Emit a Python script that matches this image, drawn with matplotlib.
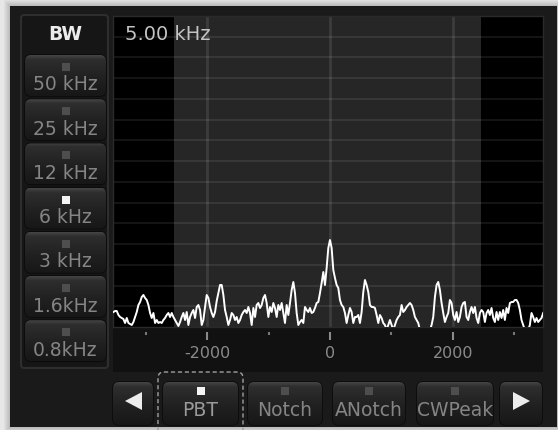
import numpy as np
import matplotlib
matplotlib.use("Agg")
import matplotlib.pyplot as plt
from matplotlib.patches import FancyBboxPatch, Rectangle, Polygon
from matplotlib.colors import LinearSegmentedColormap

# === Data ===
# spectrum level above the floor (display units, floor = 0, top of scope = 311)
spectrum_level = [
    15, 16, 16, 12, 10, 9, 8, 4, 9, 4, 3, 2, 5, 10, 15, 22, 25, 30, 32, 29,
    27, 22, 14, 9, 14, 4, 7, 4, 5, 4, 7, 9, 12, 14, 10, 14, 10, 7, 4, 1,
    5, 10, 14, 7, 15, 2, 10, 14, 17, 9, 20, 22, 17, 2, 7, 20, 32, 29, 20, 14,
    10, 15,
    26, 34, 42, 42, 32, 17, 10, 2, 7, 14, 12, 7, 10, 4, 7, 12, 15, 17, 14, 20,
    14, 2, 19, 10, 22, 24, 19, 22, 29, 32, 24, 10, 20, 15, 24, 19, 10, 22, 17, 24,
    14, 4, 22, 12, 24, 37, 45, 34, 14, 2, 5, 7, 4, 20, 17, 15, 19, 14, 15, 19,
    24, 25, 34, 44,
    55, 42, 59, 79, 87, 79, 57, 49, 42, 39, 27, 22, 20, 14, 4, 12, 19, 15, 4, 10,
    10, 12, 4, 15, 35, 47, 42, 35, 22, 20, 20, 19, 12, 4, 12, 9, 4, 2, -3, 2,
    7, 2, -3, 2, 7, 10, 12, 22, 15, 17, 20, 22, 24, 22, 17, 10, 7, 4, -3, -3,
    -3,
    -3, -3, -3, -3, 2, 10, 30, 42, 45, 37, 24, 14, 5, 10, 14, 27, 24, 12, 7, 15,
    5, 10, 20, 24, 25, 10, 7, 15, 20, 14, 20, 9, 4, 14, 17, 15, 5, 14, 17, 12,
    19, 9, 5, 15, 7, 15, 9, 17, 7, 19, 14, 24, 25, 25, 27, 27, 24, 17, 7, 2,
    -3, -3, -3, 2, 14, 10, 5, 9, 5, 7, 9, 14,
]
freq_first, freq_last = -3530, 3475          # Hz of first / last bin
freq_view = (-3537, 3472)
level_top = 311
passband = (-2540, 2460)
major_ticks = [-2000, 0, 2000]
minor_ticks = [-3000, -1000, 1000, 3000]
tick_labels = ["-2000", "0", "2000"]
bw_readout = "5.00 kHz"

bw_title = "BW"
bw_options = ["50 kHz", "25 kHz", "12 kHz", "6 kHz", "3 kHz", "1.6kHz", "0.8kHz"]
bw_selected = "6 kHz"
filter_buttons = ["PBT", "Notch", "ANotch", "CWPeak"]
filter_selected = "PBT"

freqs = np.linspace(freq_first, freq_last, len(spectrum_level))

W, H = 558, 430
fig = plt.figure(figsize=(W / 100, H / 100), dpi=100)
fig.patch.set_facecolor("#e7e7e7")

# background canvas in pixel coordinates (y down)
bg = fig.add_axes([0, 0, 1, 1])
bg.set_xlim(0, W)
bg.set_ylim(H, 0)
bg.axis("off")

btn_cmap = LinearSegmentedColormap.from_list(
    "btn", [(0, "#454545"), (0.1, "#2e2e2e"), (0.5, "#222222"), (1, "#171717")])


def button(x0, y0, x1, y1, r=6):
    patch = FancyBboxPatch((x0, y0), x1 - x0, y1 - y0,
                           boxstyle=f"round,pad=0,rounding_size={r}",
                           fc="#202020", ec="#0b0b0b", lw=1.2, zorder=2)
    bg.add_patch(patch)
    grad = np.linspace(0, 1, 64).reshape(-1, 1)
    im = bg.imshow(grad, cmap=btn_cmap, extent=(x0, x1, y1, y0),
                   aspect="auto", zorder=2.1, interpolation="bilinear")
    im.set_clip_path(patch)


def indicator(xc, yc, on):
    bg.add_patch(Rectangle((xc - 4, yc - 4), 8, 8,
                           fc="#f4f4f4" if on else "#4e4e4e", ec="none", zorder=3))


# window shadow + body
for k in range(1, 7):
    bg.add_patch(Rectangle((10 - k, 6 - k), 547 + 2 * k, 421 + 2 * k,
                           fc="black", ec="none", alpha=0.03, zorder=0))
bg.add_patch(Rectangle((10, 6), 547, 421, fc="#1a1a1a", ec="none", zorder=0.5))

# BW panel
bg.add_patch(FancyBboxPatch((21, 15), 87, 353, boxstyle="round,pad=0,rounding_size=3",
                            fc="#161616", ec="#2e2e2e", lw=1.5, zorder=1))
bg.text(65.5, 35, bw_title, ha="center", va="center", fontsize=13.5,
        fontweight="bold", color="#ececec", zorder=4)
for i, name in enumerate(bw_options):
    top = 55 + i * 44.2
    button(25, top, 106, top + 41)
    indicator(65.5, top + 12, name == bw_selected)
    bg.text(65.5, top + 30, name, ha="center", va="center", fontsize=13.5,
            color="#858585", zorder=4)

# strip under the scope
bg.add_patch(Rectangle((113, 327), 430, 45, fc="#111111", ec="none", zorder=1))

# bottom button row
button(113, 382, 153, 425)
bg.add_patch(Polygon([(125, 401), (142, 392), (142, 410)], closed=True,
                     fc="#ececec", ec="none", zorder=4))
button(500, 382, 542, 425)
bg.add_patch(Polygon([(530, 401), (513, 392), (513, 410)], closed=True,
                     fc="#ececec", ec="none", zorder=4))
filter_x = [(163, 238), (248, 322), (333, 405), (417, 493)]
for name, (x0, x1) in zip(filter_buttons, filter_x):
    button(x0, 382, x1, 425)
    xc = (x0 + x1) / 2
    indicator(xc, 391, name == filter_selected)
    bg.text(xc, 410, name, ha="center", va="center", fontsize=13.5,
            color="#9a9a9a" if name == filter_selected else "#858585", zorder=4)
sel = filter_x[filter_buttons.index(filter_selected)]
bg.add_patch(FancyBboxPatch((sel[0] - 5, 372), sel[1] - sel[0] + 10, 70,
                            boxstyle="round,pad=0,rounding_size=6", fill=False,
                            ec="#a0a0a0", lw=1, ls=(0, (3, 2)), zorder=5))

# === Scope ===
ax = fig.add_axes([113 / W, 1 - 327 / H, 430 / W, 311 / H])
ax.set_facecolor("black")
ax.axvspan(*passband, color="#262626", lw=0, zorder=0)
for y in np.linspace(0, level_top, 16)[1:-1]:
    ax.axhline(y, color="white", alpha=0.09, lw=1.3, zorder=1)
for x in major_ticks:
    ax.axvline(x, color="white", alpha=0.1, lw=2, zorder=1)
ax.plot(freqs, spectrum_level, color="white", lw=1.4, zorder=3)
ax.set_xlim(*freq_view)
ax.set_ylim(0, level_top)
ax.set_xticks([])
ax.set_yticks([])
for s in ax.spines.values():
    s.set_color("#2a2a2a")
    s.set_linewidth(1)

sec = ax.secondary_xaxis(-5 / 311)
sec.set_xticks(major_ticks, labels=tick_labels)
sec.set_xticks(minor_ticks, minor=True)
sec.tick_params(which="major", length=6, width=1.5, color="#8a8a8a",
                labelcolor="#8a8a8a", labelsize=11.5, pad=4)
sec.tick_params(which="minor", length=2.5, width=1.5, color="#777777")
for s in sec.spines.values():
    s.set_visible(False)

ax.text(125, 35, bw_readout, transform=bg.transData, ha="left", va="center",
        fontsize=14, color="#c4c4c4", zorder=5)

bg.set_xlim(0, W)
bg.set_ylim(H, 0)
fig.savefig("out.png", dpi=100, facecolor=fig.get_facecolor())
